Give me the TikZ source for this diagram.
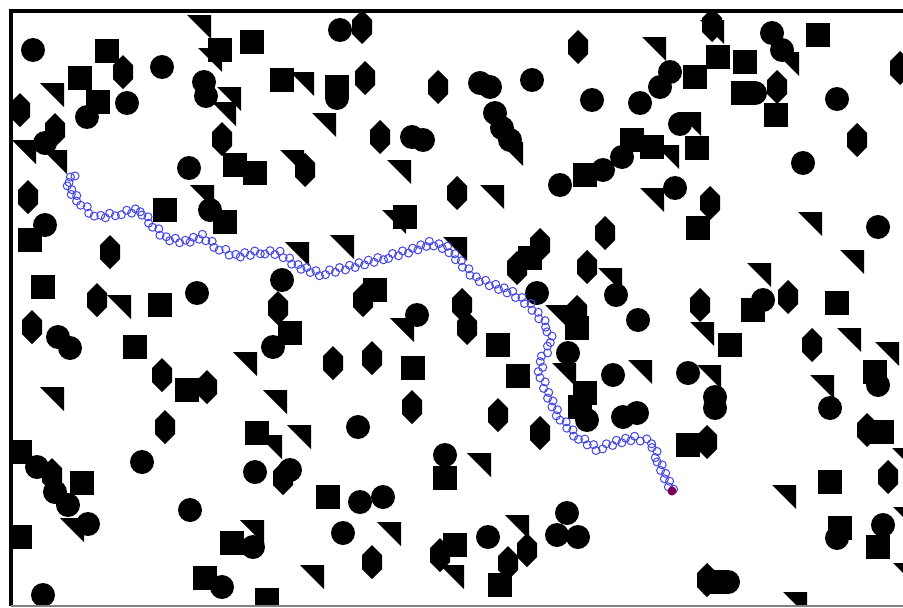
\documentclass[tikz,border=0pt]{standalone}
\definecolor{chainblue}{RGB}{70,70,225}
\definecolor{enddot}{RGB}{120,0,90}
\newcommand\shC[2]{\fill (#1,#2) circle (12pt);}
\newcommand\shS[2]{\fill (#1,#2) ++(-12,-12) rectangle ++(24,24);}
\newcommand\shH[2]{\fill (#1,#2) ++(0,-17) -- ++(10,10) -- ++(0,14) -- ++(-10,10) -- ++(-10,-10) -- ++(0,-14) -- cycle;}
\newcommand\shT[2]{\fill (#1,#2) -- ++(24,0) -- ++(0,24) -- cycle;}
\tikzset{chainlink/.style={draw=chainblue, line width=1pt}}
\begin{document}
\begin{tikzpicture}[x=1pt,y=-1pt]
\useasboundingbox (0,0) rectangle (903,608);
\fill[white] (0,0) rectangle (903,608);
\begin{scope}
\clip (11,11) rectangle (903,606);
% circles
\foreach \a/\b in {33/50,162/67,87/117,127/103,45/143,204/82,206/96,189/168,340/30,337/98,412/137,423/140,480/83,490/87,532/80,592/100,495/113,502/128,510/140,560/185,670/72,660/87,640/103,772/33,782/50,755/93,837/99,803/163,680/124,622/157,603/170,675/188,45/225,210/210,197/293,58/337,70/348,282/280,273/347,417/315,537/293,568/353,616/295,638/320,763/300,878/227,613/375,688/373,715/397,878/385,142/462,37/467,55/492,68/505,88/524,43/595,190/510,255/472,290/470,253/547,222/587,358/427,445/455,360/502,383/497,343/533,488/537,567/513,557/535,578/537,587/420,623/417,637/413,715/408,830/408,837/538,883/525,728/582}
  {\shC{\a}{\b}}
% squares
\foreach \a/\b in {107/51,252/42,220/50,282/80,80/78,98/102,235/165,255/173,337/87,585/175,695/77,718/57,745/62,818/35,743/93,776/115,632/140,652/147,697/148,30/240,165/210,225/222,43/287,160/305,135/347,187/390,290/333,405/217,375/290,530/258,577/328,498/345,518/376,413/368,585/393,580/407,698/228,753/310,837/303,730/345,875/372,20/452,82/483,20/537,257/433,232/543,205/578,267/600,328/497,445/478,455/545,500/585,688/445,882/432,830/482,840/528,878/547,715/582}
  {\shS{\a}{\b}}
% hexagons
\foreach \a/\b in {123/72,20/110,55/130,28/197,222/139,305/170,362/27,365/78,380/137,438/87,578/47,457/193,712/25,777/87,857/140,710/203,900/68,110/252,97/300,32/327,162/375,207/387,278/308,363/300,462/305,467/328,540/245,517/268,587/267,577/312,333/363,372/358,605/233,700/305,788/297,812/345,165/427,52/475,283/478,412/407,498/415,540/433,372/562,527/550,508/563,707/442,867/430,888/477,707/580,440/555}
  {\shH{\a}{\b}}
% triangles
\foreach \a/\b in {187/15,198/48,290/72,40/83,12/140,43/150,217/87,212/102,280/150,190/185,312/113,387/160,499/142,480/185,642/37,700/20,775/52,677/112,655/145,640/188,107/295,233/352,263/390,285/242,40/387,330/235,443/237,382/210,390/318,545/305,552/363,798/212,840/250,598/268,747/263,690/322,837/328,875/342,628/360,697/365,810/375,287/425,240/520,60/518,258/435,467/453,377/522,300/565,505/515,440/565,772/485,892/448,893/507,893/563,783/592}
  {\shT{\a}{\b}}
% chain path of small links, alternating to either side of the route
\foreach \x/\y [remember=\x as \px (initially 75), remember=\y as \py (initially 176)] in {68/181,70/190,78/200,90/212,100/217,115/214,127/212,140/210,150/222,165/238,185/242,203/236,215/246,235/256,260/252,280/253,297/266,320/274,350/267,383/258,413/250,430/243,447/248,460/262,475/278,495/286,512/293,530/305,547/326,552/342,543/357,540/372,547/393,558/415,575/435,597/449,617/442,635/438,652/442,657/457,664/474,672/490}
{
  \pgfmathsetmacro\seglen{veclen(\x-\px,\y-\py)}
  \pgfmathtruncatemacro\nlinks{max(1,round(\seglen/5))}
  \foreach \i in {1,...,\nlinks}{
    \pgfmathsetmacro\side{2*mod(\i,2)-1}
    \pgfmathsetmacro\cx{\px+(\x-\px)*\i/\nlinks-\side*1.8*(\y-\py)/\seglen}
    \pgfmathsetmacro\cy{\py+(\y-\py)*\i/\nlinks+\side*1.8*(\x-\px)/\seglen}
    \draw[chainlink] (\cx,\cy) circle (4pt);
  }
}
\draw[chainlink] (75,176) circle (4pt);
\fill[enddot] (672,491) circle (4.5pt);
\end{scope}
% frame
\draw[line width=4.5pt] (11,606) -- (11,11) -- (903,11);
\draw[gray, line width=2pt] (11,606) -- (903,606);
\end{tikzpicture}
\end{document}
